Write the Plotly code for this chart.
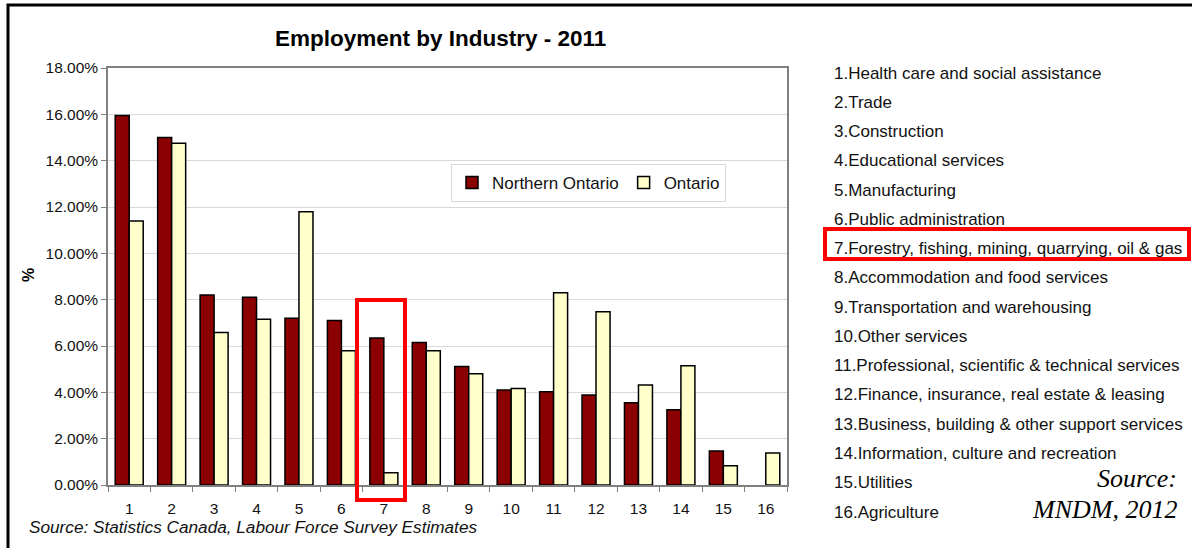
import plotly.graph_objects as go

categories = [str(i) for i in range(1, 17)]
northern_ontario = [15.95, 15.0, 8.2, 8.1, 7.2, 7.1, 6.35, 6.15, 5.12, 4.1, 4.03, 3.88, 3.55, 3.25, 1.47, None]
ontario = [11.4, 14.75, 6.58, 7.15, 11.8, 5.8, 0.53, 5.8, 4.8, 4.17, 8.3, 7.48, 4.32, 5.15, 0.83, 1.38]
industries = [
    "1.Health care and social assistance",
    "2.Trade",
    "3.Construction",
    "4.Educational services",
    "5.Manufacturing",
    "6.Public administration",
    "7.Forestry, fishing, mining, quarrying, oil & gas",
    "8.Accommodation and food services",
    "9.Transportation and warehousing",
    "10.Other services",
    "11.Professional, scientific & technical services",
    "12.Finance, insurance, real estate & leasing",
    "13.Business, building & other support services",
    "14.Information, culture and recreation",
    "15.Utilities",
    "16.Agriculture",
]
y_ticks = [0, 2, 4, 6, 8, 10, 12, 14, 16, 18]

W, H = 1192, 548
L, R, T, B = 108, 787, 68, 485


def px(x):
    return (x - L) / (R - L)


def py(y):
    return (B - y) / (B - T)


fig = go.Figure()
fig.add_trace(go.Bar(
    x=categories, y=northern_ontario, name="Northern Ontario",
    marker=dict(color="#8b0000", line=dict(color="black", width=1.5)),
))
fig.add_trace(go.Bar(
    x=categories, y=ontario, name="Ontario",
    marker=dict(color="#ffffcc", line=dict(color="black", width=1.5)),
))

font = "Liberation Sans, Arial, sans-serif"

annotations = [
    dict(text="<b>Employment by Industry - 2011</b>", x=px(440), y=py(38),
         font=dict(size=22.5, color="black", family=font)),
    dict(text="<b>%</b>", x=px(28), y=py(275), textangle=-90,
         font=dict(size=16, color="black", family=font)),
    dict(text="<i>Source: Statistics Canada, Labour Force Survey Estimates</i>",
         x=px(27), y=py(527), xanchor="left",
         font=dict(size=17.2, color="#111", family=font)),
    dict(text="<i>Source:</i>", x=px(1179), y=py(478), xanchor="right",
         font=dict(size=26, color="black", family="Liberation Serif, Times New Roman, serif")),
    dict(text="<i>MNDM, 2012</i>", x=px(1179), y=py(509), xanchor="right",
         font=dict(size=26, color="black", family="Liberation Serif, Times New Roman, serif")),
]
for i, name in enumerate(industries):
    annotations.append(dict(
        text=name, x=px(832), y=py(73 + i * 29.27), xanchor="left",
        font=dict(size=17, color="#111", family=font)))
for a in annotations:
    a.update(xref="paper", yref="paper", showarrow=False)
    a.setdefault("xanchor", "center")
    a.setdefault("yanchor", "middle")

shapes = [
    dict(type="rect", x0=px(8), x1=px(1210), y0=py(570), y1=py(5),
         line=dict(color="black", width=3)),
    dict(type="rect", x0=px(357), x1=px(405), y0=py(500), y1=py(300),
         line=dict(color="#ff0000", width=4)),
    dict(type="rect", x0=px(825), x1=px(1189), y0=py(259), y1=py(229),
         line=dict(color="#ff0000", width=4)),
]
for s in shapes:
    s.update(xref="paper", yref="paper")

fig.update_layout(
    width=W, height=H,
    margin=dict(l=L, r=W - R, t=T, b=H - B),
    paper_bgcolor="white", plot_bgcolor="white",
    barmode="group", bargap=0.34, bargroupgap=0,
    font=dict(family=font, color="#111"),
    showlegend=True,
    legend=dict(orientation="h", x=px(451), y=py(164), xanchor="left", yanchor="top",
                bordercolor="#d9d9d9", borderwidth=1, bgcolor="white",
                font=dict(size=17, color="#111", family=font),
                itemclick=False),
    annotations=annotations, shapes=shapes,
    xaxis=dict(type="category", tickson="boundaries", ticks="outside", ticklen=5,
               tickcolor="#808080", showline=True, linecolor="#808080", linewidth=1.5,
               mirror=True, showgrid=False, ticklabelstandoff=9,
               tickfont=dict(size=15.5, color="#111")),
    yaxis=dict(range=[0, 18], tickvals=y_ticks,
               ticktext=[f"{v:.2f}%" for v in y_ticks],
               ticks="outside", ticklen=5, tickcolor="#808080",
               showline=True, linecolor="#808080", linewidth=1.5, mirror=True,
               showgrid=True, gridcolor="#d9d9d9", gridwidth=1,
               zeroline=False, tickfont=dict(size=15.5, color="#111")),
)

fig.write_html("out.html")
